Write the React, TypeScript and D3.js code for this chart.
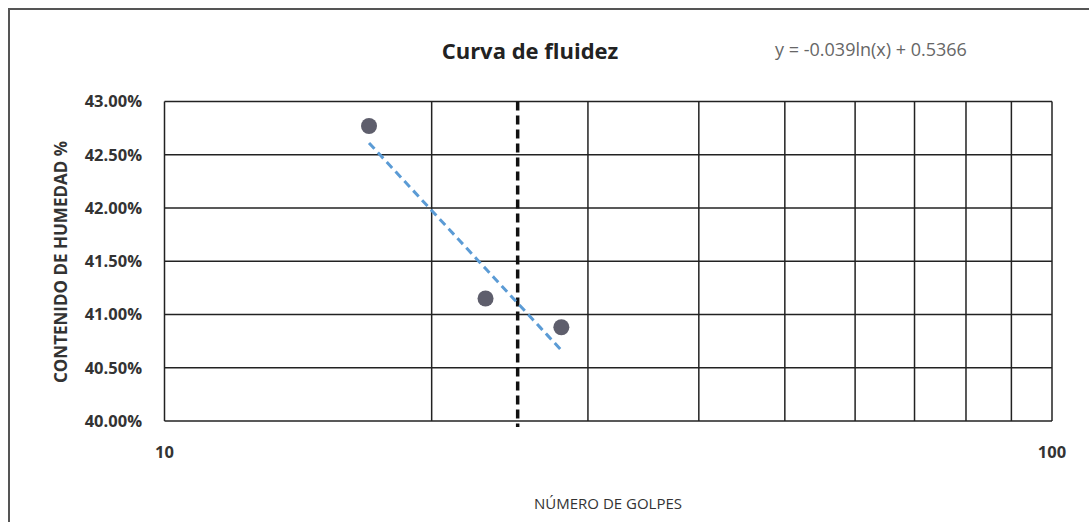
import { useEffect, useRef } from "react";
import * as d3 from "d3";

// data
const golpes = [17, 23, 28];
const humedad = [0.4277, 0.4115, 0.4088];
const trendA = -0.039;
const trendB = 0.5366;
const trendRange = [17, 28];
const golpesLimite = 25;
const yTicks = [0.4, 0.405, 0.41, 0.415, 0.42, 0.425, 0.43];
const xGrid = [10, 20, 30, 40, 50, 60, 70, 80, 90, 100];
const xLabels = [10, 100];

const W = 1089;
const H = 522;
const FONT = "'Open Sans', 'Liberation Sans', sans-serif";

const App = () => {
  const ref = useRef<SVGSVGElement>(null);

  useEffect(() => {
    const svg = d3.select(ref.current);
    svg.selectAll("*").remove();

    const left = 164.5;
    const right = 1052;
    const top = 101.5;
    const bottom = 421;

    const x = d3.scaleLog().domain([10, 100]).range([left, right]);
    const y = d3.scaleLinear().domain([0.4, 0.43]).range([bottom, top]);

    // outer frame (scanned border)
    svg
      .append("path")
      .attr("d", `M9,${H} L9,9 L${W},9`)
      .attr("fill", "none")
      .attr("stroke", "#555")
      .attr("stroke-width", 2);

    // horizontal grid
    svg
      .append("g")
      .selectAll("line")
      .data(yTicks)
      .join("line")
      .attr("x1", left)
      .attr("x2", right)
      .attr("y1", (d) => y(d))
      .attr("y2", (d) => y(d))
      .attr("stroke", "#222")
      .attr("stroke-width", 1.5);

    // vertical grid
    svg
      .append("g")
      .selectAll("line")
      .data(xGrid)
      .join("line")
      .attr("x1", (d) => x(d))
      .attr("x2", (d) => x(d))
      .attr("y1", top)
      .attr("y2", bottom)
      .attr("stroke", "#222")
      .attr("stroke-width", 1.5);

    // y labels
    svg
      .append("g")
      .selectAll("text")
      .data(yTicks)
      .join("text")
      .attr("x", 142)
      .attr("y", (d) => y(d))
      .attr("dy", "0.35em")
      .attr("text-anchor", "end")
      .attr("font-family", FONT)
      .attr("font-weight", "bold")
      .attr("font-size", 16.5)
      .attr("fill", "#333")
      .text((d) => d3.format(".2%")(d));

    // x labels
    svg
      .append("g")
      .selectAll("text")
      .data(xLabels)
      .join("text")
      .attr("x", (d) => x(d))
      .attr("y", 458)
      .attr("text-anchor", "middle")
      .attr("font-family", FONT)
      .attr("font-weight", "bold")
      .attr("font-size", 16.5)
      .attr("fill", "#333")
      .text((d) => d);

    // vertical dashed line at 25 golpes
    svg
      .append("line")
      .attr("x1", x(golpesLimite))
      .attr("x2", x(golpesLimite))
      .attr("y1", top)
      .attr("y2", bottom + 6)
      .attr("stroke", "#111")
      .attr("stroke-width", 3.5)
      .attr("stroke-dasharray", "9,5");

    // trendline
    const trendX = d3.range(trendRange[0], trendRange[1] + 0.01, 0.5);
    const line = d3
      .line<number>()
      .x((d) => x(d))
      .y((d) => y(trendA * Math.log(d) + trendB));
    svg
      .append("path")
      .attr("d", line(trendX))
      .attr("fill", "none")
      .attr("stroke", "#5b9bd5")
      .attr("stroke-width", 3)
      .attr("stroke-dasharray", "8,5");

    // points
    svg
      .append("g")
      .selectAll("circle")
      .data(golpes)
      .join("circle")
      .attr("cx", (d) => x(d))
      .attr("cy", (_, i) => y(humedad[i]))
      .attr("r", 8)
      .attr("fill", "#5e5e6c");

    // titles
    svg
      .append("text")
      .attr("x", 530)
      .attr("y", 59)
      .attr("text-anchor", "middle")
      .attr("font-family", FONT)
      .attr("font-weight", "bold")
      .attr("font-size", 22)
      .attr("fill", "#222")
      .text("Curva de fluidez");

    svg
      .append("text")
      .attr("x", 871)
      .attr("y", 56)
      .attr("text-anchor", "middle")
      .attr("font-family", FONT)
      .attr("font-size", 18)
      .attr("fill", "#666")
      .text(`y = ${trendA}ln(x) + ${trendB}`);

    svg
      .append("text")
      .attr("x", 608)
      .attr("y", 509)
      .attr("text-anchor", "middle")
      .attr("font-family", FONT)
      .attr("font-size", 15)
      .attr("fill", "#333")
      .text("NÚMERO DE GOLPES");

    svg
      .append("text")
      .attr("transform", `translate(67,262) rotate(-90)`)
      .attr("text-anchor", "middle")
      .attr("font-family", FONT)
      .attr("font-weight", "bold")
      .attr("font-size", 17)
      .attr("fill", "#333")
      .text("CONTENIDO DE HUMEDAD %");
  }, []);

  return (
    <svg
      ref={ref}
      width={W}
      height={H}
      style={{ position: "absolute", left: 0, top: 0, background: "#fff" }}
    ></svg>
  );
};

export default App;
